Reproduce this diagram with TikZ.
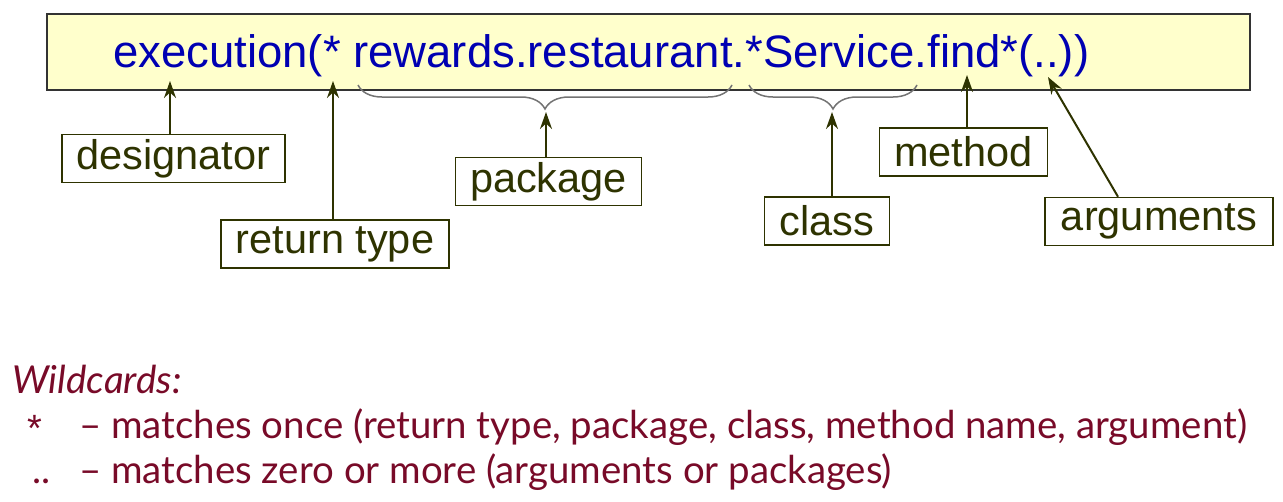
\documentclass[tikz,border=0pt]{standalone}
\usepackage{fontspec}
\setmainfont{Liberation Sans}
\newfontfamily\notafont{Lato}
\usetikzlibrary{decorations.pathreplacing, arrows.meta}
\definecolor{codigo}{RGB}{0,0,178}
\definecolor{oliva}{RGB}{46,51,0}
\definecolor{vino}{RGB}{120,10,40}
\definecolor{amarillo}{RGB}{255,255,204}

\begin{document}
\begin{tikzpicture}[x=1pt, y=-1pt, >={Stealth[length=17pt, width=12pt]},
    etiqueta/.style={draw=oliva, line width=1.5pt, fill=white, text=oliva,
      font=\fontsize{41.5}{44}\selectfont, minimum height=48pt, inner sep=0pt},
    flecha/.style={->, oliva, line width=2pt},
    llave/.style={decorate, decoration={brace, mirror, amplitude=24pt}, black!55, line width=1.5pt},
    nota/.style={anchor=base west, inner sep=0pt, text=vino, font=\notafont\fontsize{38.4}{44}\selectfont}]
    \useasboundingbox (0,0) rectangle (1283,501);

    % Recuadro con la expresion del punto de corte
    \draw[fill=amarillo, draw=black!80, line width=2pt] (47,14) rectangle (1250,90);
    \node[anchor=base west, inner sep=0pt, text=codigo, font=\fontsize{45.5}{48}\selectfont] (expr)
      at (113,67) {execution(* rewards.restaurant.*Service.find*(..))};

    % Llaves bajo paquete y clase
    \draw[llave] (358,85) -- (732,85);
    \draw[llave] (749,85) -- (917,85);
    \coordinate (tpkg) at (546,112);
    \coordinate (tcls) at (832,112);

    % Puntas de las flechas
    \coordinate (tdes) at (170,81);
    \coordinate (tret) at (333,81);
    \coordinate (tmet) at (967,75);
    \coordinate (targ) at (1048,77);

    % Cajas de etiquetas
    \node[etiqueta, minimum width=223pt] (desig) at (173.5,158.5) {designator};
    \node[etiqueta, minimum width=228pt] (ret) at (335,244) {return type};
    \node[etiqueta, minimum width=186pt] (pkg) at (548.5,181.5) {package};
    \node[etiqueta, minimum width=125pt] (cls) at (827,221) {class};
    \node[etiqueta, minimum width=168pt] (met) at (963.5,152) {method};
    \node[etiqueta, minimum width=228pt] (args) at (1159,221.5) {arguments};

    % Flechas hacia la expresion
    \draw[flecha] (desig.north -| tdes) -- (tdes);
    \draw[flecha] (ret.north -| tret) -- (tret);
    \draw[flecha] (pkg.north -| tpkg) -- (tpkg);
    \draw[flecha] (cls.north -| tcls) -- (tcls);
    \draw[flecha] (met.north -| tmet) -- (tmet);
    \draw[flecha] (args.north -| 1118,0) -- (targ);

    % Comodines
    \node[nota, font=\notafont\itshape\fontsize{38.5}{44}\selectfont] (titulo) at (12,393) {Wildcards:};
    \node[nota, font=\fontsize{38}{44}\selectfont] (estrella) at (27,441) {*};
    \node[nota] (guion1) at (79,438) {\textendash{} matches once (return type, package, class, method name, argument)};
    \node[nota] (puntos) at (32,483) {..};
    \node[nota] (guion2) at (79,483) {\textendash{} matches zero or more (arguments or packages)};
\end{tikzpicture}
\end{document}
